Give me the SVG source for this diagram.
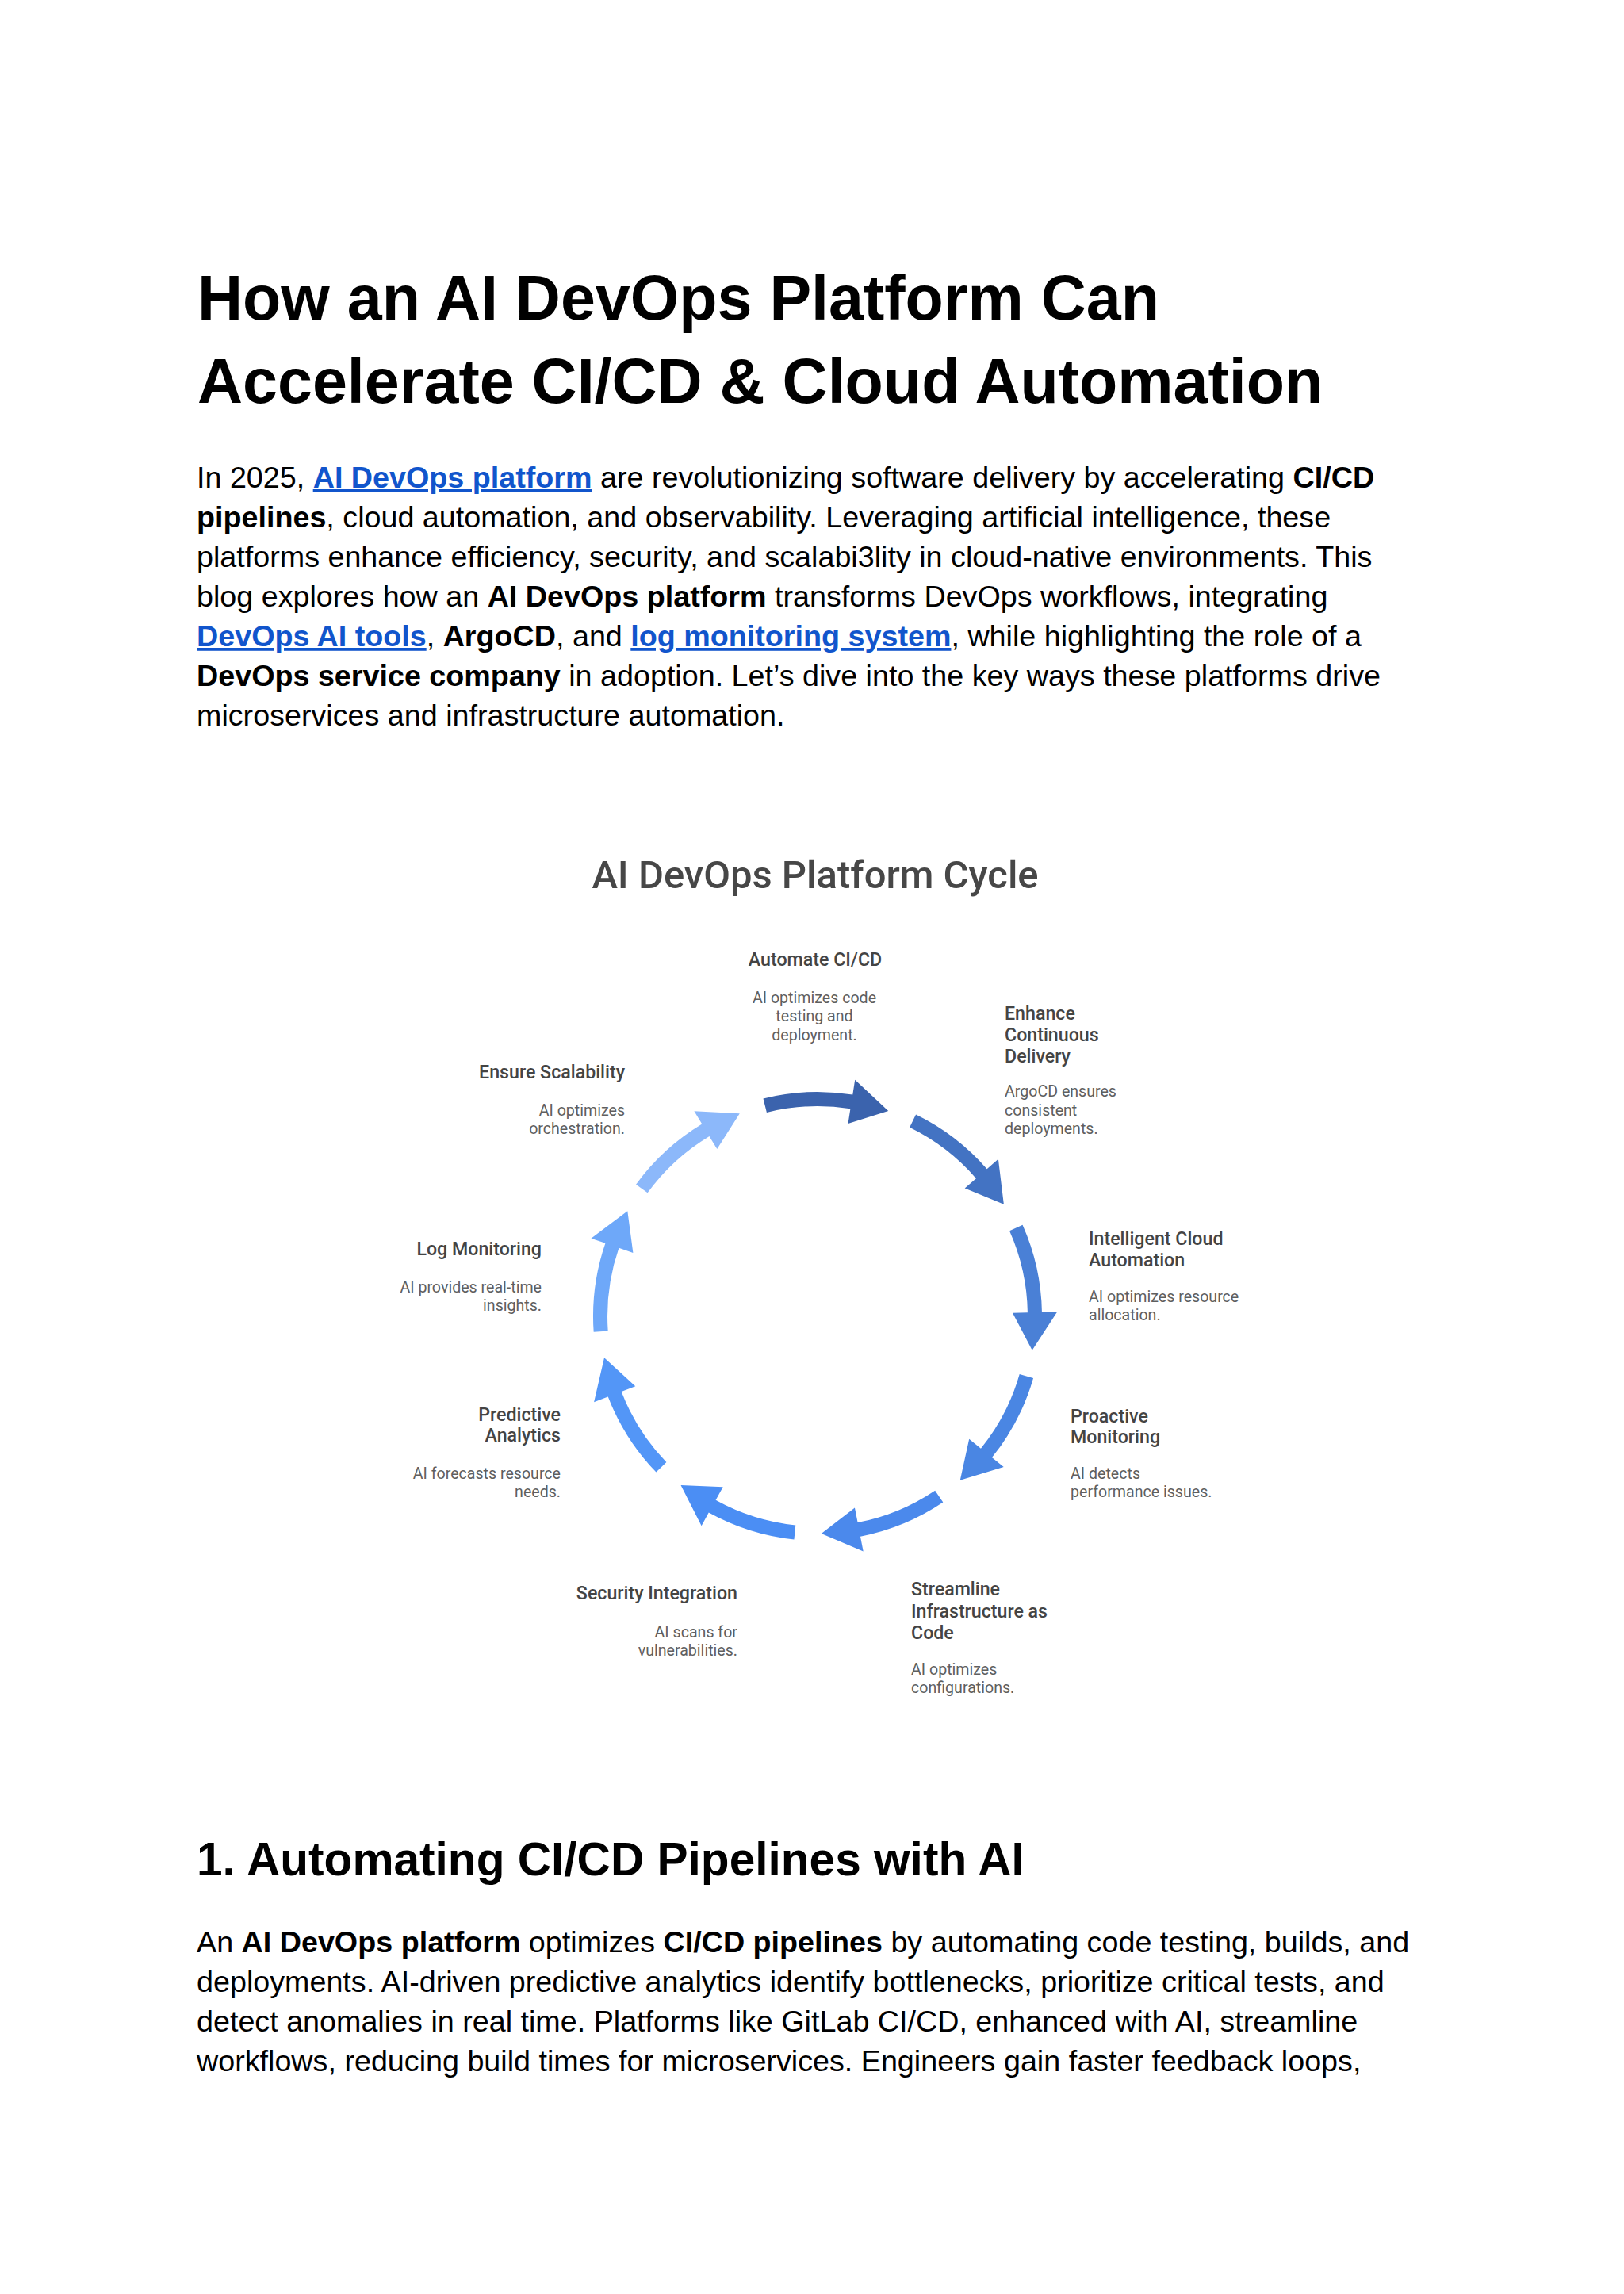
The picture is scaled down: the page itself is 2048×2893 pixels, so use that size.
<svg xmlns="http://www.w3.org/2000/svg" width="2048" height="2893" viewBox="0 0 2048 2893">
<style>
.h1{font-family:"Liberation Sans",Arial,sans-serif;font-weight:700;font-size:79px;fill:#000}
.h2{font-family:"Liberation Sans",Arial,sans-serif;font-weight:700;font-size:58.6px;fill:#000}
.p{font-family:"Liberation Sans",Arial,sans-serif;font-size:37.7px;fill:#000}
.b{font-weight:700}
.lk{font-weight:700;fill:#1155cc;text-decoration:underline}
.dt{font-family:Roboto,"Noto Sans",sans-serif;font-weight:500;font-size:49px;fill:#474747}
.nt{font-family:Roboto,"Noto Sans",sans-serif;font-weight:500;font-size:23.2px;fill:#444}
.nd{font-family:Roboto,"Noto Sans",sans-serif;font-weight:400;font-size:19.6px;fill:#5f5f5f}
.e{text-anchor:end}
.m{text-anchor:middle}
</style>
<defs>
<path id="arr" d="M962.5,1385.4 A283,283 0 0 1 1075.3,1380.5 L1078.2,1361.7 L1120.2,1400.9 L1069.5,1417.0 L1072.4,1398.3 A265,265 0 0 0 966.9,1402.9 Z"/>
</defs>
<rect width="2048" height="2893" fill="#fff"/>

<g id="heading">
<text class="h1" x="249" y="403">How an AI DevOps Platform Can</text>
<text class="h1" x="249" y="508">Accelerate CI/CD &amp; Cloud Automation</text>
</g>

<g id="intro">
<text class="p" x="248" y="615">In 2025, <tspan class="lk">AI DevOps platform</tspan> are revolutionizing software delivery by accelerating <tspan class="b">CI/CD</tspan></text>
<text class="p" x="248" y="665"><tspan class="b">pipelines</tspan>, cloud automation, and observability. Leveraging artificial intelligence, these</text>
<text class="p" x="248" y="715">platforms enhance efficiency, security, and scalabi3lity in cloud-native environments. This</text>
<text class="p" x="248" y="765">blog explores how an <tspan class="b">AI DevOps platform</tspan> transforms DevOps workflows, integrating</text>
<text class="p" x="248" y="815"><tspan class="lk">DevOps AI tools</tspan>, <tspan class="b">ArgoCD</tspan>, and <tspan class="lk">log monitoring system</tspan>, while highlighting the role of a</text>
<text class="p" x="248" y="865"><tspan class="b">DevOps service company</tspan> in adoption. Let’s dive into the key ways these platforms drive</text>
<text class="p" x="248" y="915">microservices and infrastructure automation.</text>
</g>

<g id="diagram-title">
<text class="dt m" x="1028" y="1120">AI DevOps Platform Cycle</text>
</g>

<g id="connectors">
<use href="#arr" fill="#3b63ad"/>
<use href="#arr" fill="#4373c3" transform="rotate(40 1031 1660)"/>
<use href="#arr" fill="#4a80d6" transform="rotate(80 1031 1660)"/>
<use href="#arr" fill="#4a86e3" transform="rotate(120 1031 1660)"/>
<use href="#arr" fill="#4b89ec" transform="rotate(160 1031 1660)"/>
<use href="#arr" fill="#4b8ef4" transform="rotate(200 1031 1660)"/>
<use href="#arr" fill="#5396f7" transform="rotate(240 1031 1660)"/>
<use href="#arr" fill="#6ea8f9" transform="rotate(280 1031 1660)"/>
<use href="#arr" fill="#8cb8fa" transform="rotate(320 1031 1660)"/>
</g>

<g id="node-automate">
<text class="nt m" x="1028" y="1218">Automate CI/CD</text>
<text class="nd m" x="1027" y="1265">AI optimizes code</text>
<text class="nd m" x="1027" y="1288">testing and</text>
<text class="nd m" x="1027" y="1312">deployment.</text>
</g>
<g id="node-enhance">
<text class="nt" x="1267" y="1286">Enhance</text>
<text class="nt" x="1267" y="1313">Continuous</text>
<text class="nt" x="1267" y="1340">Delivery</text>
<text class="nd" x="1267" y="1383">ArgoCD ensures</text>
<text class="nd" x="1267" y="1407">consistent</text>
<text class="nd" x="1267" y="1430">deployments.</text>
</g>
<g id="node-cloud">
<text class="nt" x="1373" y="1570">Intelligent Cloud</text>
<text class="nt" x="1373" y="1597">Automation</text>
<text class="nd" x="1373" y="1642">AI optimizes resource</text>
<text class="nd" x="1373" y="1665">allocation.</text>
</g>
<g id="node-proactive">
<text class="nt" x="1350" y="1794">Proactive</text>
<text class="nt" x="1350" y="1820">Monitoring</text>
<text class="nd" x="1350" y="1865">AI detects</text>
<text class="nd" x="1350" y="1888">performance issues.</text>
</g>
<g id="node-iac">
<text class="nt" x="1149" y="2012">Streamline</text>
<text class="nt" x="1149" y="2040">Infrastructure as</text>
<text class="nt" x="1149" y="2067">Code</text>
<text class="nd" x="1149" y="2112">AI optimizes</text>
<text class="nd" x="1149" y="2135">configurations.</text>
</g>
<g id="node-security">
<text class="nt e" x="930" y="2017">Security Integration</text>
<text class="nd e" x="930" y="2065">AI scans for</text>
<text class="nd e" x="930" y="2088">vulnerabilities.</text>
</g>
<g id="node-predictive">
<text class="nt e" x="707" y="1792">Predictive</text>
<text class="nt e" x="707" y="1818">Analytics</text>
<text class="nd e" x="707" y="1865">AI forecasts resource</text>
<text class="nd e" x="707" y="1888">needs.</text>
</g>
<g id="node-log">
<text class="nt e" x="683" y="1583">Log Monitoring</text>
<text class="nd e" x="683" y="1630">AI provides real-time</text>
<text class="nd e" x="683" y="1653">insights.</text>
</g>
<g id="node-scalability">
<text class="nt e" x="788" y="1360">Ensure Scalability</text>
<text class="nd e" x="788" y="1407">AI optimizes</text>
<text class="nd e" x="788" y="1430">orchestration.</text>
</g>

<g id="section-1">
<text class="h2" x="248" y="2365">1. Automating CI/CD Pipelines with AI</text>
<text class="p" x="248" y="2462">An <tspan class="b">AI DevOps platform</tspan> optimizes <tspan class="b">CI/CD pipelines</tspan> by automating code testing, builds, and</text>
<text class="p" x="248" y="2512">deployments. AI-driven predictive analytics identify bottlenecks, prioritize critical tests, and</text>
<text class="p" x="248" y="2562">detect anomalies in real time. Platforms like GitLab CI/CD, enhanced with AI, streamline</text>
<text class="p" x="248" y="2612">workflows, reducing build times for microservices. Engineers gain faster feedback loops,</text>
</g>
</svg>
